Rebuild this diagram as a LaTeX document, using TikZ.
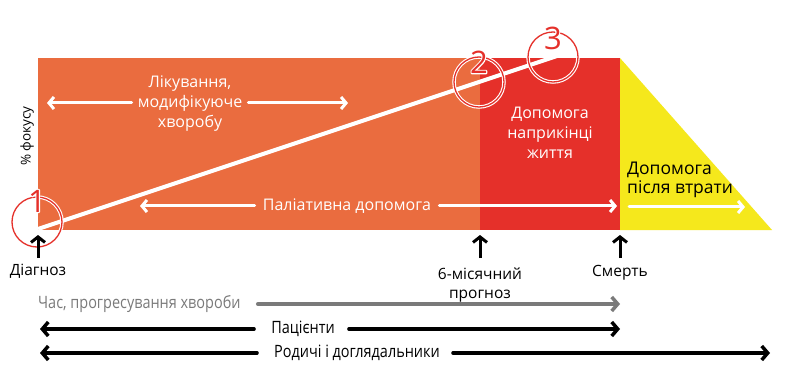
\documentclass[tikz,border=0pt]{standalone}
\usepackage{fontspec}
\setmainfont{Open Sans}
\newfontfamily\condfont[FakeStretch=0.85]{Open Sans}
\usetikzlibrary{arrows.meta,calc}
\definecolor{orng}{HTML}{EA6C3F}
\definecolor{redc}{HTML}{E5302A}
\definecolor{yelc}{HTML}{F5E81C}
\definecolor{greyc}{HTML}{7A7A7A}
\tikzset{
  wa/.style={draw=white,line width=3pt,-{Straight Barb[length=5pt,width=12pt]},line cap=round},
  ba/.style={draw=black,line width=3.5pt,-{Straight Barb[length=6pt,width=14pt]},line cap=round},
  ga/.style={draw=greyc,line width=3.5pt,-{Straight Barb[length=6pt,width=14pt]},line cap=round},
  upa/.style={draw=black,line width=3pt,-{Straight Barb[length=5.5pt,width=14pt]}},
  lbl/.style={font=\fontsize{15.5}{19}\selectfont,align=center,inner sep=0pt},
  btxt/.style={font=\condfont\fontsize{17}{20}\selectfont,inner sep=0pt},
  wtxt/.style={text=white,font=\fontsize{16}{20}\selectfont,align=center,inner sep=0pt},
  num/.style={text=redc,font=\fontsize{31}{31}\selectfont,inner sep=0pt},
}
\newcommand{\outlined}[1]{\rlap{\special{pdf:literal 1 Tr 1 1 1 RG 2.2 w 1 j}#1\special{pdf:literal 0 Tr}}#1}
\begin{document}
\begin{tikzpicture}[x=1pt,y=-1pt]
\useasboundingbox[fill=white] (0,0) rectangle (800,390);
% areas
\fill[orng] (38,58) rectangle (480,230);
\fill[redc] (480,58) rectangle (620,230);
\fill[yelc] (620,58) -- (620,230) -- (772,230) -- cycle;
% diagonal
\coordinate (ls) at (38,229);
\coordinate (le) at (557,56);
\draw[white,line width=4pt] (ls) -- (le);
% circles
\foreach \n/\cx/\cy in {c1/37/222,c2/479/82,c3/553/57}{
  \draw[white,line width=3.5pt] (\cx,\cy) circle (25);
  \draw[redc,line width=1.3pt] (\cx,\cy) circle (25);
  \coordinate (\n) at (\cx,\cy);
}
\node[num] (n1) at (37,201) {\outlined{1}};
\node[num] (n2) at (479,62) {\outlined{2}};
\node[num] (n3) at (553,38) {\outlined{3}};
% y axis label
\node[rotate=90,font=\fontsize{13.5}{15}\selectfont,inner sep=0pt] (focus) at (27,136) {\% фокусу};
% treatment
\node[wtxt] (treat) at (190,104) {Лікування,\\модифікуюче\\хворобу};
\coordinate (t1) at (47,103);
\coordinate (t2) at (348,103);
\draw[wa] (treat.west|-t1) ++(-6,0) -- (t1);
\draw[wa] (treat.east|-t2) ++(6,0) -- (t2);
% palliative
\node[wtxt] (pall) at (347,206) {Паліативна допомога};
\coordinate (pa1) at (140,206);
\coordinate (pa2) at (617,206);
\draw[wa] (pall.west) ++(-8,0) -- (pa1);
\draw[wa] (pall.east) ++(8,0) -- (pa2);
% end of life
\node[wtxt] (eol) at (550,133) {Допомога\\наприкінці\\життя};
% bereavement
\node[font=\fontsize{17.5}{19.5}\selectfont,align=left,anchor=west,inner sep=0pt] (ber) at (627,180) {Допомога\\після втрати};
\coordinate (b1) at (629,207);
\coordinate (b2) at (745,207);
\draw[wa] (b1) -- (b2);
% up arrows and labels
\node[lbl] (diag) at (38,271) {Діагноз};
\node[lbl] (prog) at (480,285) {6-місячний\\прогноз};
\node[lbl] (death) at (620,273) {Смерть};
\coordinate (u1) at (38,235);
\coordinate (u2) at (480,235);
\coordinate (u3) at (620,235);
\draw[upa] (38,258) -- (u1);
\draw[upa] (480,258) -- (u2);
\draw[upa] (620,258) -- (u3);
% bottom timelines
\node[btxt,text=greyc,anchor=west] (time) at (38,304) {Час, прогресування хвороби};
\coordinate (g2) at (620,304);
\draw[ga] (time.east) ++(17,0) -- (g2);
\node[btxt] (pat) at (303,329) {Пацієнти};
\coordinate (pl) at (40,329);
\coordinate (pr) at (620,329);
\draw[ba] (pat.west) ++(-17,0) -- (pl);
\draw[ba] (pat.east) ++(14,0) -- (pr);
\node[btxt] (fam) at (357,353) {Родичі і доглядальники};
\coordinate (fl) at (40,353);
\coordinate (fr) at (770,353);
\draw[ba] (fam.west) ++(-17,0) -- (fl);
\draw[ba] (fam.east) ++(13,0) -- (fr);
\end{tikzpicture}
\end{document}
